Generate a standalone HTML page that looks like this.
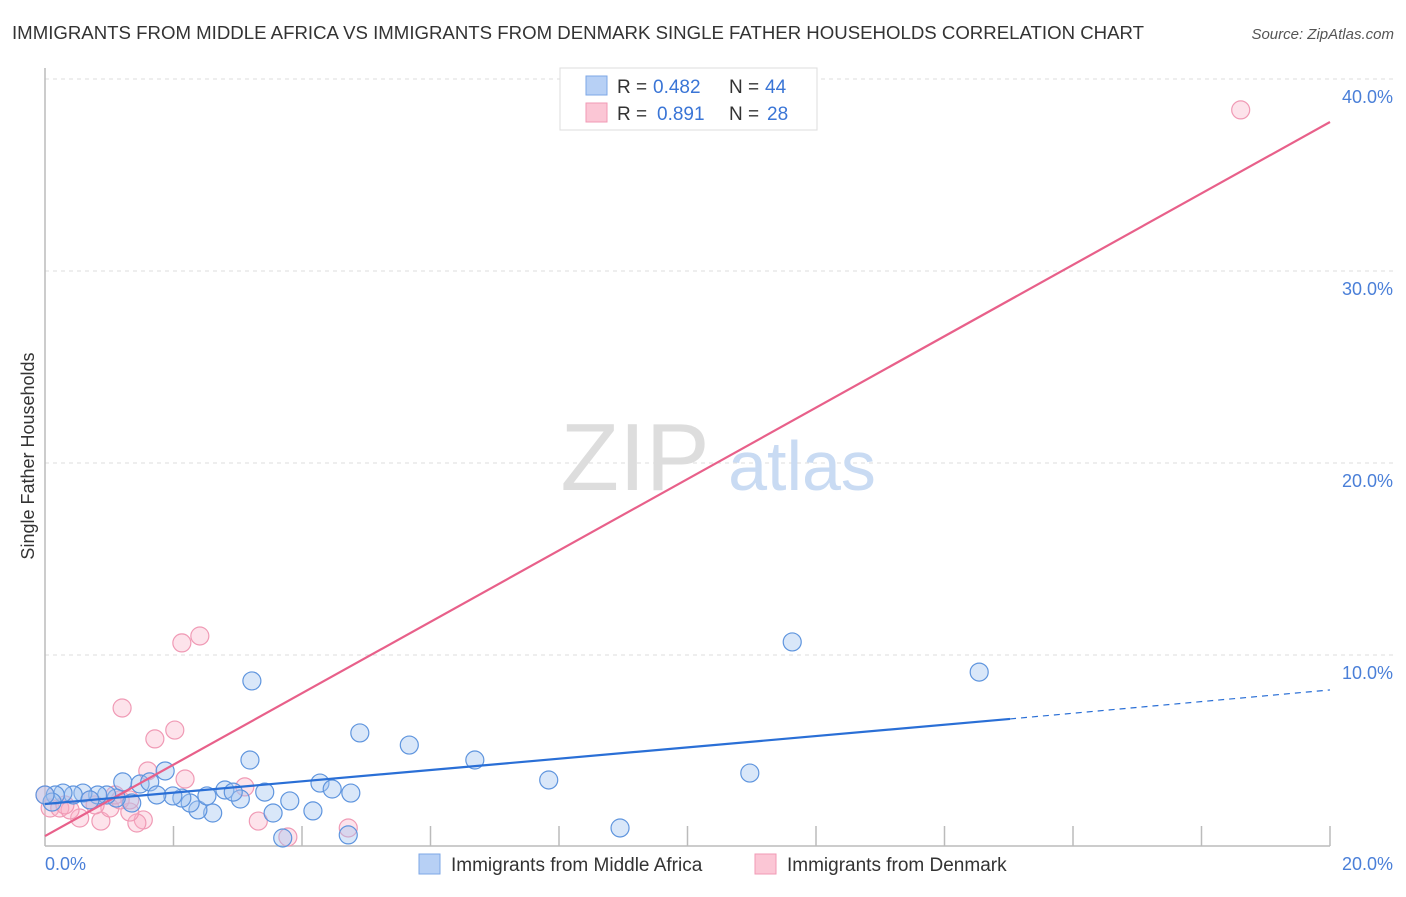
<!DOCTYPE html>
<html><head><meta charset="utf-8"><style>
body{margin:0;background:#fff;font-family:"Liberation Sans",sans-serif;}
svg text{font-family:"Liberation Sans",sans-serif;}
</style></head><body>
<svg width="1406" height="892" xmlns="http://www.w3.org/2000/svg">
<text x="12" y="39" font-size="18" fill="#333" textLength="1132" lengthAdjust="spacingAndGlyphs">IMMIGRANTS FROM MIDDLE AFRICA VS IMMIGRANTS FROM DENMARK SINGLE FATHER HOUSEHOLDS CORRELATION CHART</text>
<text x="1394" y="39" font-size="15" fill="#555" font-style="italic" text-anchor="end">Source: ZipAtlas.com</text>
<g id="grid"></g>
<text x="635" y="490" font-size="96" fill="#ddd" font-family="Liberation Serif" text-anchor="middle">ZIP</text>
<text x="802" y="490" font-size="70" fill="#c9dbf3" text-anchor="middle">atlas</text>
<line x1="45" y1="68" x2="45" y2="846" stroke="#bbb" stroke-width="1.5"/>
<line x1="45" y1="846" x2="1330" y2="846" stroke="#bbb" stroke-width="1.5"/>
<g id="ticks"></g>
<g id="ylabels"></g>
<text x="45" y="870" font-size="18" fill="#4a7fd8">0.0%</text>
<text x="1393" y="870" font-size="18" fill="#4a7fd8" text-anchor="end">20.0%</text>
<text transform="translate(34,456) rotate(-90)" font-size="18" fill="#333" text-anchor="middle">Single Father Households</text>
<g id="pts"></g>
<g id="lines"></g>
<g>
<rect x="560" y="68" width="257" height="62" fill="#fff" stroke="#ddd"/>
<rect x="586" y="76" width="21" height="19" fill="#b7d0f5" stroke="#7ea7e6"/>
<rect x="586" y="103" width="21" height="19" fill="#fbc6d5" stroke="#f09ab5"/>
<text x="617" y="93" font-size="19" fill="#333">R =</text>
<text x="653" y="93" font-size="19" fill="#3a75d6">0.482</text>
<text x="729" y="93" font-size="19" fill="#333">N =</text>
<text x="765" y="93" font-size="19" fill="#3a75d6">44</text>
<text x="617" y="120" font-size="19" fill="#333">R =</text>
<text x="657" y="120" font-size="19" fill="#3a75d6">0.891</text>
<text x="729" y="120" font-size="19" fill="#333">N =</text>
<text x="767" y="120" font-size="19" fill="#3a75d6">28</text>
</g>
<g>
<rect x="419" y="854" width="21" height="20" fill="#b7d0f5" stroke="#7ea7e6"/>
<text x="451" y="871" font-size="19" fill="#333">Immigrants from Middle Africa</text>
<rect x="755" y="854" width="21" height="20" fill="#fbc6d5" stroke="#f09ab5"/>
<text x="787" y="871" font-size="19" fill="#333">Immigrants from Denmark</text>
</g>
</svg>
<script>
const yTicks=[10,20,30,40];
const yTickLabels=["10.0%","20.0%","30.0%","40.0%"];
const xTicks=[2,4,6,8,10,12,14,16,18,20];
const blueX=[3.22,4.90,5.67,3.19,1.87,1.21,1.48,1.63,2.80,3.42,4.28,4.47,4.76,3.81,3.55,4.17,2.61,2.38,2.26,2.13,1.99,2.52,3.04,2.93,1.74,1.35,1.11,0.96,0.82,0.59,0.44,0.28,0.16,0.11,3.70,4.72,6.69,7.84,10.97,11.63,14.54,8.95,0,0.70];
const blueY=[8.65,5.94,5.31,4.53,3.96,3.39,3.28,3.39,2.97,2.86,3.33,3.02,2.81,2.40,1.77,1.88,1.77,1.93,2.29,2.55,2.66,2.66,2.50,2.86,2.71,2.29,2.55,2.71,2.71,2.81,2.71,2.81,2.71,2.34,0.47,0.63,4.53,3.49,3.85,10.68,9.11,0.99,2.71,2.45];
const pinkX=[18.61,2.41,2.13,1.20,2.02,1.71,1.60,2.18,3.11,3.32,3.78,4.72,1.53,1.43,0.87,0.54,0.08,0.23,0.39,0.70,1.01,1.32,1.17,0,0.31,1.32,0.78,1.09];
const pinkY=[38.39,10.99,10.63,7.24,6.09,5.63,3.96,3.54,3.13,1.35,0.52,0.99,1.41,1.25,1.35,1.51,2.03,2.03,1.93,2.45,2.03,1.82,2.45,2.71,2.19,2.45,2.19,2.71];
const pinkTrend=[0.57,37.76];
const blueTrend=[2.24,6.67,8.18];
const blueSolidEnd=15.02;
const NS="http://www.w3.org/2000/svg";
const sx=v=>45+v*64.25, sy=v=>847-v*19.2;
function mk(t,a,p){const e=document.createElementNS(NS,t);for(const k in a)e.setAttribute(k,a[k]);document.getElementById(p).appendChild(e);return e;}
yTicks.forEach((t,i)=>{
 const l=mk('line',{x1:45,x2:1395,y1:sy(t),y2:sy(t),stroke:'#ddd','stroke-dasharray':'4,4'},'grid');
 
 
 const tx=mk('text',{x:1393,y:sy(t)+24,'font-size':18,fill:'#4a7fd8','text-anchor':'end'},'ylabels');
 tx.textContent=yTickLabels[i];
 
 
});
xTicks.forEach(t=>{
 const l=mk('line',{x1:sx(t),x2:sx(t),y1:826,y2:846,stroke:'#bbb','stroke-width':1.5},'ticks');
 
 
});
pinkX.forEach((x,i)=>{
 const c=mk('circle',{cx:sx(x),cy:sy(pinkY[i]),r:9,fill:'rgba(248,175,198,0.35)',stroke:'#f09ab5','stroke-width':1.2},'pts');
 
 
});
blueX.forEach((x,i)=>{
 const c=mk('circle',{cx:sx(x),cy:sy(blueY[i]),r:9,fill:'rgba(160,195,240,0.4)',stroke:'#5f95de','stroke-width':1.2},'pts');
 
 
});
let l=mk('line',{x1:sx(0),y1:sy(pinkTrend[0]),x2:sx(20),y2:sy(pinkTrend[1]),stroke:'#e8608a','stroke-width':2.2},'lines');


l=mk('line',{x1:sx(0),y1:sy(blueTrend[0]),x2:sx(blueSolidEnd),y2:sy(blueTrend[1]),stroke:'#2a6fd6','stroke-width':2.2},'lines');


l=mk('line',{x1:sx(blueSolidEnd),y1:sy(blueTrend[1]),x2:sx(20),y2:sy(blueTrend[2]),stroke:'#2a6fd6','stroke-width':1.2,'stroke-dasharray':'6,5'},'lines');


</script>
</body></html>
